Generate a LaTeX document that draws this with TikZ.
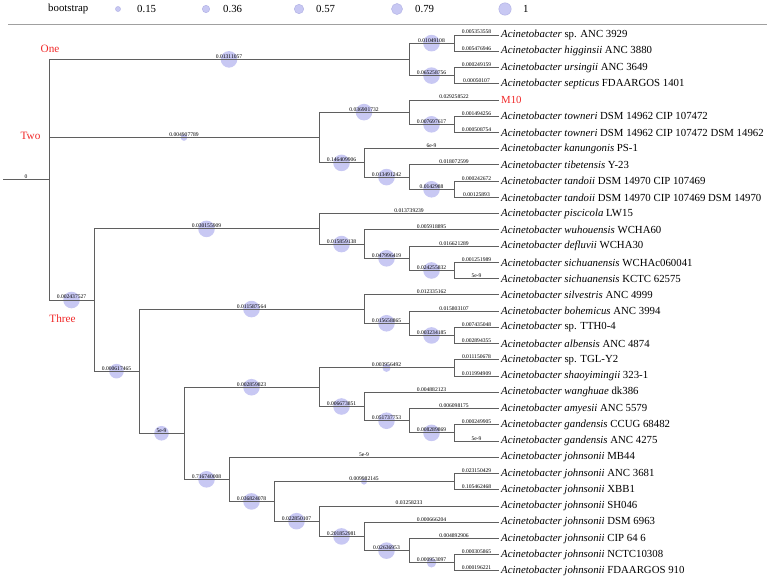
\documentclass[tikz,border=0pt]{standalone}
\usepackage{fontspec}
\setmainfont{Liberation Serif}
\usetikzlibrary{calc}
\pgfdeclarelayer{bg}
\pgfsetlayers{bg,main}
\definecolor{lav}{RGB}{200,200,243}
\definecolor{lavd}{RGB}{180,180,230}
\definecolor{brc}{RGB}{95,95,95}
\definecolor{redlab}{RGB}{240,40,40}
\definecolor{rulec}{RGB}{160,160,160}
\tikzset{
  edgeline/.style={draw=brc, line width=0.9pt},
  blabel/.style={font=\fontsize{5.6}{6}\selectfont, anchor=south, inner sep=0.5pt, text=black},
  leaflabel/.style={font=\fontsize{10.8}{12}\selectfont, anchor=west, inner sep=0pt},
  cladelab/.style={font=\fontsize{11.2}{13}\selectfont, text=redlab, inner sep=0pt},
  legtext/.style={font=\fontsize{10.8}{12}\selectfont, anchor=west, inner sep=0pt},
  legdot/.style={circle, fill=lav, draw=lavd, line width=0.5pt, inner sep=0pt},
}
\newcommand{\tleaf}[3]{%
  \coordinate (#1) at (499,{35+16.24*(#2-1)});
  \node[leaflabel] (#1t) at (501,{35+16.24*(#2-1)}) {#3};}
\newcommand{\inode}[4]{\path let \p1=($(#3)!0.5!(#4)$) in coordinate (#1) at (#2pt,\y1);}
\newcommand{\tedge}[3]{\draw[edgeline] (#1) |- (#2) node[pos=0.75,blabel]{#3};}
\newcommand{\cedge}[4]{%
  \begin{pgfonlayer}{bg}\fill[lav] ($(#1|-#2)!0.5!(#2)$) circle (#4pt);\end{pgfonlayer}%
  \tedge{#1}{#2}{#3}}
\newcommand{\Ac}{\textit{Acinetobacter}}
\begin{document}
\begin{tikzpicture}[x=1pt,y=-1pt]
\useasboundingbox (0,0) rectangle (767,581);
% legend
\node[legtext] (legtitle) at (48,9) {bootstrap};
\node[legdot, minimum size=5pt] (d1) at (118,9) {};
\node[legtext] (t1) at (137,9) {0.15};
\node[legdot, minimum size=7.4pt] (d2) at (206,9) {};
\node[legtext] (t2) at (223,9) {0.36};
\node[legdot, minimum size=9.4pt] (d3) at (299,9) {};
\node[legtext] (t3) at (316,9) {0.57};
\node[legdot, minimum size=11pt] (d4) at (397,9) {};
\node[legtext] (t4) at (415,9) {0.79};
\node[legdot, minimum size=12.4pt] (d5) at (505,9) {};
\node[legtext] (t5) at (523,9) {1};
\coordinate (ruleL) at (8,24);
\coordinate (ruleR) at (767,24);
\draw[rulec, line width=0.9pt] (ruleL) -- (ruleR);
% leaves
\tleaf{l1}{1}{\Ac{} sp. ANC 3929}
\tleaf{l2}{2}{\textit{Acinetobacter higginsii} ANC 3880}
\tleaf{l3}{3}{\textit{Acinetobacter ursingii} ANC 3649}
\tleaf{l4}{4}{\textit{Acinetobacter septicus} FDAARGOS 1401}
\tleaf{l5}{5}{\textcolor{redlab}{M10}}
\tleaf{l6}{6}{\textit{Acinetobacter towneri} DSM 14962 CIP 107472}
\tleaf{l7}{7}{\textit{Acinetobacter towneri} DSM 14962 CIP 107472 DSM 14962}
\tleaf{l8}{8}{\textit{Acinetobacter kanungonis} PS-1}
\tleaf{l9}{9}{\textit{Acinetobacter tibetensis} Y-23}
\tleaf{l10}{10}{\textit{Acinetobacter tandoii} DSM 14970 CIP 107469}
\tleaf{l11}{11}{\textit{Acinetobacter tandoii} DSM 14970 CIP 107469 DSM 14970}
\tleaf{l12}{12}{\textit{Acinetobacter piscicola} LW15}
\tleaf{l13}{13}{\textit{Acinetobacter wuhouensis} WCHA60}
\tleaf{l14}{14}{\textit{Acinetobacter defluvii} WCHA30}
\tleaf{l15}{15}{\textit{Acinetobacter sichuanensis} WCHAc060041}
\tleaf{l16}{16}{\textit{Acinetobacter sichuanensis} KCTC 62575}
\tleaf{l17}{17}{\textit{Acinetobacter silvestris} ANC 4999}
\tleaf{l18}{18}{\textit{Acinetobacter bohemicus} ANC 3994}
\tleaf{l19}{19}{\Ac{} sp. TTH0-4}
\tleaf{l20}{20}{\textit{Acinetobacter albensis} ANC 4874}
\tleaf{l21}{21}{\Ac{} sp. TGL-Y2}
\tleaf{l22}{22}{\textit{Acinetobacter shaoyimingii} 323-1}
\tleaf{l23}{23}{\textit{Acinetobacter wanghuae} dk386}
\tleaf{l24}{24}{\textit{Acinetobacter amyesii} ANC 5579}
\tleaf{l25}{25}{\textit{Acinetobacter gandensis} CCUG 68482}
\tleaf{l26}{26}{\textit{Acinetobacter gandensis} ANC 4275}
\tleaf{l27}{27}{\textit{Acinetobacter johnsonii} MB44}
\tleaf{l28}{28}{\textit{Acinetobacter johnsonii} ANC 3681}
\tleaf{l29}{29}{\textit{Acinetobacter johnsonii} XBB1}
\tleaf{l30}{30}{\textit{Acinetobacter johnsonii} SH046}
\tleaf{l31}{31}{\textit{Acinetobacter johnsonii} DSM 6963}
\tleaf{l32}{32}{\textit{Acinetobacter johnsonii} CIP 64 6}
\tleaf{l33}{33}{\textit{Acinetobacter johnsonii} NCTC10308}
\tleaf{l34}{34}{\textit{Acinetobacter johnsonii} FDAARGOS 910}
% internal nodes
\inode{a1}{454}{l1}{l2}
\inode{a2}{454}{l3}{l4}
\inode{One}{409}{a1}{a2}
\inode{tw}{454}{l6}{l7}
\inode{nA}{409}{l5}{tw}
\inode{ta}{454}{l10}{l11}
\inode{tb}{409}{l9}{ta}
\inode{nB}{364}{l8}{tb}
\inode{Two}{319}{nA}{nB}
\inode{si}{454}{l15}{l16}
\inode{de}{409}{l14}{si}
\inode{wu}{364}{l13}{de}
\inode{nC}{319}{l12}{wu}
\inode{tt}{454}{l19}{l20}
\inode{bo}{409}{l18}{tt}
\inode{nE}{364}{l17}{bo}
\inode{tg}{454}{l21}{l22}
\inode{ga}{454}{l25}{l26}
\inode{nJ}{409}{l24}{ga}
\inode{nI}{364}{l23}{nJ}
\inode{nG}{319}{tg}{nI}
\inode{nL}{454}{l28}{l29}
\inode{nP}{454}{l33}{l34}
\inode{nO}{409}{l32}{nP}
\inode{nN}{364}{l31}{nO}
\inode{nM}{319}{l30}{nN}
\inode{nK}{274}{nL}{nM}
\inode{nH}{229}{l27}{nK}
\inode{nF}{184}{nG}{nH}
\inode{nD}{139}{nE}{nF}
\inode{Three}{94}{nC}{nD}
\inode{root}{49}{One}{Three}
% root stub
\coordinate (r0) at ($(root)+(-46,0)$);
\draw[edgeline] (r0) -- (root) node[midway,blabel]{0};
% edges
\cedge{root}{One}{0.01311057}{8.3}
\cedge{root}{Two}{0.004907789}{3.3}
\cedge{root}{Three}{0.002437527}{8.3}
\cedge{One}{a1}{0.01049108}{8.3}
\cedge{One}{a2}{0.065258756}{8.3}
\tedge{a1}{l1}{0.005353558}
\tedge{a1}{l2}{0.005476946}
\tedge{a2}{l3}{0.000249159}
\tedge{a2}{l4}{0.00050107}
\cedge{Two}{nA}{0.036901732}{8.3}
\tedge{nA}{l5}{0.029258522}
\cedge{nA}{tw}{0.007697617}{8.3}
\tedge{tw}{l6}{0.001494256}
\tedge{tw}{l7}{0.000508754}
\cedge{Two}{nB}{0.146409906}{8.3}
\tedge{nB}{l8}{6e-9}
\cedge{nB}{tb}{0.013491242}{8.3}
\tedge{tb}{l9}{0.018072599}
\cedge{tb}{ta}{0.0142988}{8.3}
\tedge{ta}{l10}{0.000242672}
\tedge{ta}{l11}{0.00125893}
\cedge{Three}{nC}{0.030155909}{8.3}
\tedge{nC}{l12}{0.013739239}
\cedge{nC}{wu}{0.015859138}{8.3}
\tedge{wu}{l13}{0.005918895}
\cedge{wu}{de}{0.047996419}{8.3}
\tedge{de}{l14}{0.016621289}
\cedge{de}{si}{0.024255832}{8.3}
\tedge{si}{l15}{0.001251989}
\tedge{si}{l16}{5e-9}
\cedge{Three}{nD}{0.000617465}{7.3}
\cedge{nD}{nE}{0.011587564}{8.3}
\tedge{nE}{l17}{0.012335162}
\cedge{nE}{bo}{0.015658865}{8.3}
\tedge{bo}{l18}{0.015803107}
\cedge{bo}{tt}{0.003234185}{8.3}
\tedge{tt}{l19}{0.007435048}
\tedge{tt}{l20}{0.002894355}
\cedge{nD}{nF}{5e-9}{7.3}
\cedge{nF}{nG}{0.002859823}{8.3}
\cedge{nG}{tg}{0.003956492}{4}
\tedge{tg}{l21}{0.011150678}
\tedge{tg}{l22}{0.011994909}
\cedge{nG}{nI}{0.006673851}{8.3}
\tedge{nI}{l23}{0.004882123}
\cedge{nI}{nJ}{0.051737753}{8.3}
\tedge{nJ}{l24}{0.006098175}
\cedge{nJ}{ga}{0.008289869}{8.3}
\tedge{ga}{l25}{0.000249905}
\tedge{ga}{l26}{5e-9}
\cedge{nF}{nH}{0.716740008}{8.3}
\tedge{nH}{l27}{5e-9}
\cedge{nH}{nK}{0.036824078}{8.3}
\cedge{nK}{nL}{0.009982145}{3}
\tedge{nL}{l28}{0.023150429}
\tedge{nL}{l29}{0.105462468}
\cedge{nK}{nM}{0.022850107}{8.3}
\tedge{nM}{l30}{0.03258233}
\cedge{nM}{nN}{0.201852981}{8.3}
\tedge{nN}{l31}{0.000666204}
\cedge{nN}{nO}{0.02636953}{8.3}
\tedge{nO}{l32}{0.004892906}
\cedge{nO}{nP}{0.000953097}{4.7}
\tedge{nP}{l33}{0.000305865}
\tedge{nP}{l34}{0.000196221}
% clade labels
\node[cladelab] (labOne) at (50,49) {One};
\node[cladelab] (labTwo) at (30.5,136) {Two};
\node[cladelab] (labThree) at (62.5,319) {Three};
\end{tikzpicture}
\end{document}
